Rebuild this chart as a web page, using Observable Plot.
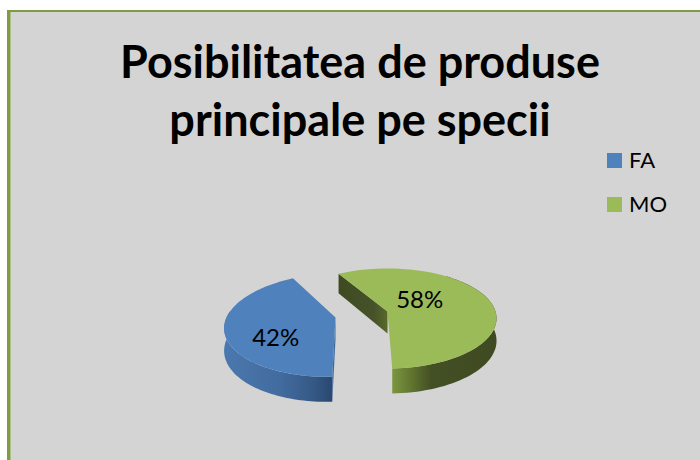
<!DOCTYPE html>
<html><head><meta charset="utf-8">
<script src="https://cdn.jsdelivr.net/npm/d3@7"></script>
<script src="https://cdn.jsdelivr.net/npm/@observablehq/plot@0.6"></script>
<style>
html,body{margin:0;padding:0;background:#fff;overflow:hidden}
#page{position:relative;width:700px;height:460px;overflow:hidden;font-family:Lato,"Open Sans",sans-serif;color:#000}
#frame{position:absolute;left:7px;top:10px;right:-5px;bottom:-5px;box-sizing:border-box;background:#d4d4d4;border-left:3px solid #7f9c45;border-top:2.5px solid #7f9c45;box-shadow:inset 1px 0 0 #adc08a}
#title{position:absolute;left:60px;width:600px;top:32px;text-align:center;font-weight:700;font-size:45px;line-height:58px}
.leg{position:absolute;left:607px;font-size:22px;line-height:22px;display:flex;align-items:center;gap:7px}
.leg i{display:block;width:15px;height:15px}
#chart{position:absolute;left:0;top:0}
svg{background:transparent!important}
</style></head>
<body><div id="page">
<div id="frame"></div>
<div id="chart"></div>
<div id="title">Posibilitatea de produse<br>principale pe specii</div>
<div id="legend"></div>
</div>
<script>
const categories = ["FA", "MO"];
const shares = [42, 58];
const topColors = ["#4f81bd", "#9bbb59"];

// Layout of the 3D view (screen space)
const startAngle = -31;          // degrees, clockwise from the back of the pie
const view = {k: 0.14, ry: 50, depth: 22};
const placement = {
  FA: {cx: 335, cy: 317, rx: 109, ry: 52, skew: -8, lab: [233, 0.62]},
  MO: {cx: 387, cy: 311, rx: 108, ry: 50, skew: 0,  lab: [54, 0.38]}
};

const pie = d3.pie().sort(null).startAngle(startAngle * Math.PI / 180)
  .endAngle((startAngle + 360) * Math.PI / 180);
// MO comes first clockwise from the start angle
const order = [1, 0];
const arcs = pie(order.map(i => shares[i])).map((a, j) => ({...a, cat: categories[order[j]], color: topColors[order[j]]}));

function project(p, u, v, down = 0) {
  const s = 1 + view.k * v;
  return {
    x: p.cx + p.rx * u * s + p.skew * v,
    y: p.cy + p.ry * v * s + down * view.depth * s
  };
}
const polar = (p, t, r = 1, down = 0) => project(p, Math.sin(t) * r, -Math.cos(t) * r, down);
const samples = (a0, a1) => d3.range(0, 61).map(i => a0 + (a1 - a0) * i / 60);

function topFace(a) {
  const p = placement[a.cat];
  return [project(p, 0, 0), ...samples(a.startAngle, a.endAngle).map(t => polar(p, t)), project(p, 0, 0)];
}
function rimWall(a, from, to) {
  const p = placement[a.cat];
  const ts = samples(from, to);
  return [...ts.map(t => polar(p, t)), ...ts.slice().reverse().map(t => polar(p, t, 1, 1))];
}
function cutWall(a, t) {
  const p = placement[a.cat];
  return [project(p, 0, 0), project(p, 0, 0, 1), polar(p, t, 1, 1), polar(p, t)];
}
const MO = arcs.find(a => a.cat === "MO");
const FA = arcs.find(a => a.cat === "FA");

const poly = (pts, fill) => Plot.line(pts, {x: "x", y: "y", fill, stroke: "none", curve: "linear"});

const defs = () => {
  const d = d3.create("svg:defs");
  const grad = (id, x1, x2, stops) => {
    const g = d.append("linearGradient").attr("id", id).attr("gradientUnits", "userSpaceOnUse")
      .attr("x1", x1).attr("x2", x2).attr("y1", 0).attr("y2", 0);
    stops.forEach(([o, c]) => g.append("stop").attr("offset", o).attr("stop-color", c));
  };
  grad("gBlueSide", 226, 332, [[0, "#4a77ad"], [0.5, "#426c9f"], [0.8, "#365a87"], [1, "#2a4870"]]);
  grad("gGreenSide", 390, 497, [[0, "#7e9942"], [0.2, "#60742f"], [0.38, "#434f24"], [1, "#3f4a21"]]);
  grad("gGreenCut", 339, 388, [[0, "#3f4a21"], [0.7, "#46522a"], [1, "#5a6b2c"]]);
  return d.node();
};

const labels = arcs.map(a => {
  const p = placement[a.cat];
  const pt = polar(p, p.lab[0] * Math.PI / 180, p.lab[1]);
  return {...pt, text: `${a.data}%`};
});

const chart = Plot.plot({
  width: 700, height: 460, margin: 0,
  x: {domain: [0, 700], range: [0, 700], axis: null},
  y: {domain: [0, 460], range: [0, 460], axis: null},
  style: {background: "transparent"},
  marks: [
    defs,
    poly(rimWall(FA, FA.startAngle, FA.endAngle - 0.9), "url(#gBlueSide)"),
    poly(cutWall(FA, FA.startAngle), "#3f6a9d"),
    poly(topFace(FA), FA.color),
    poly(cutWall(MO, MO.startAngle), "url(#gGreenCut)"),
    poly(rimWall(MO, MO.startAngle + 1.2, MO.endAngle), "url(#gGreenSide)"),
    poly(topFace(MO), MO.color),
    Plot.text(labels, {x: "x", y: "y", text: "text", fontSize: 24, fontFamily: "Lato", fill: "#000"})
  ]
});
document.getElementById("chart").append(chart);

const legend = document.getElementById("legend");
categories.forEach((c, i) => {
  const row = document.createElement("div");
  row.className = "leg";
  row.style.top = (149 + i * 44) + "px";
  const sw = document.createElement("i");
  sw.style.background = topColors[i];
  row.append(sw, c);
  legend.append(row);
});
</script>
</body></html>
